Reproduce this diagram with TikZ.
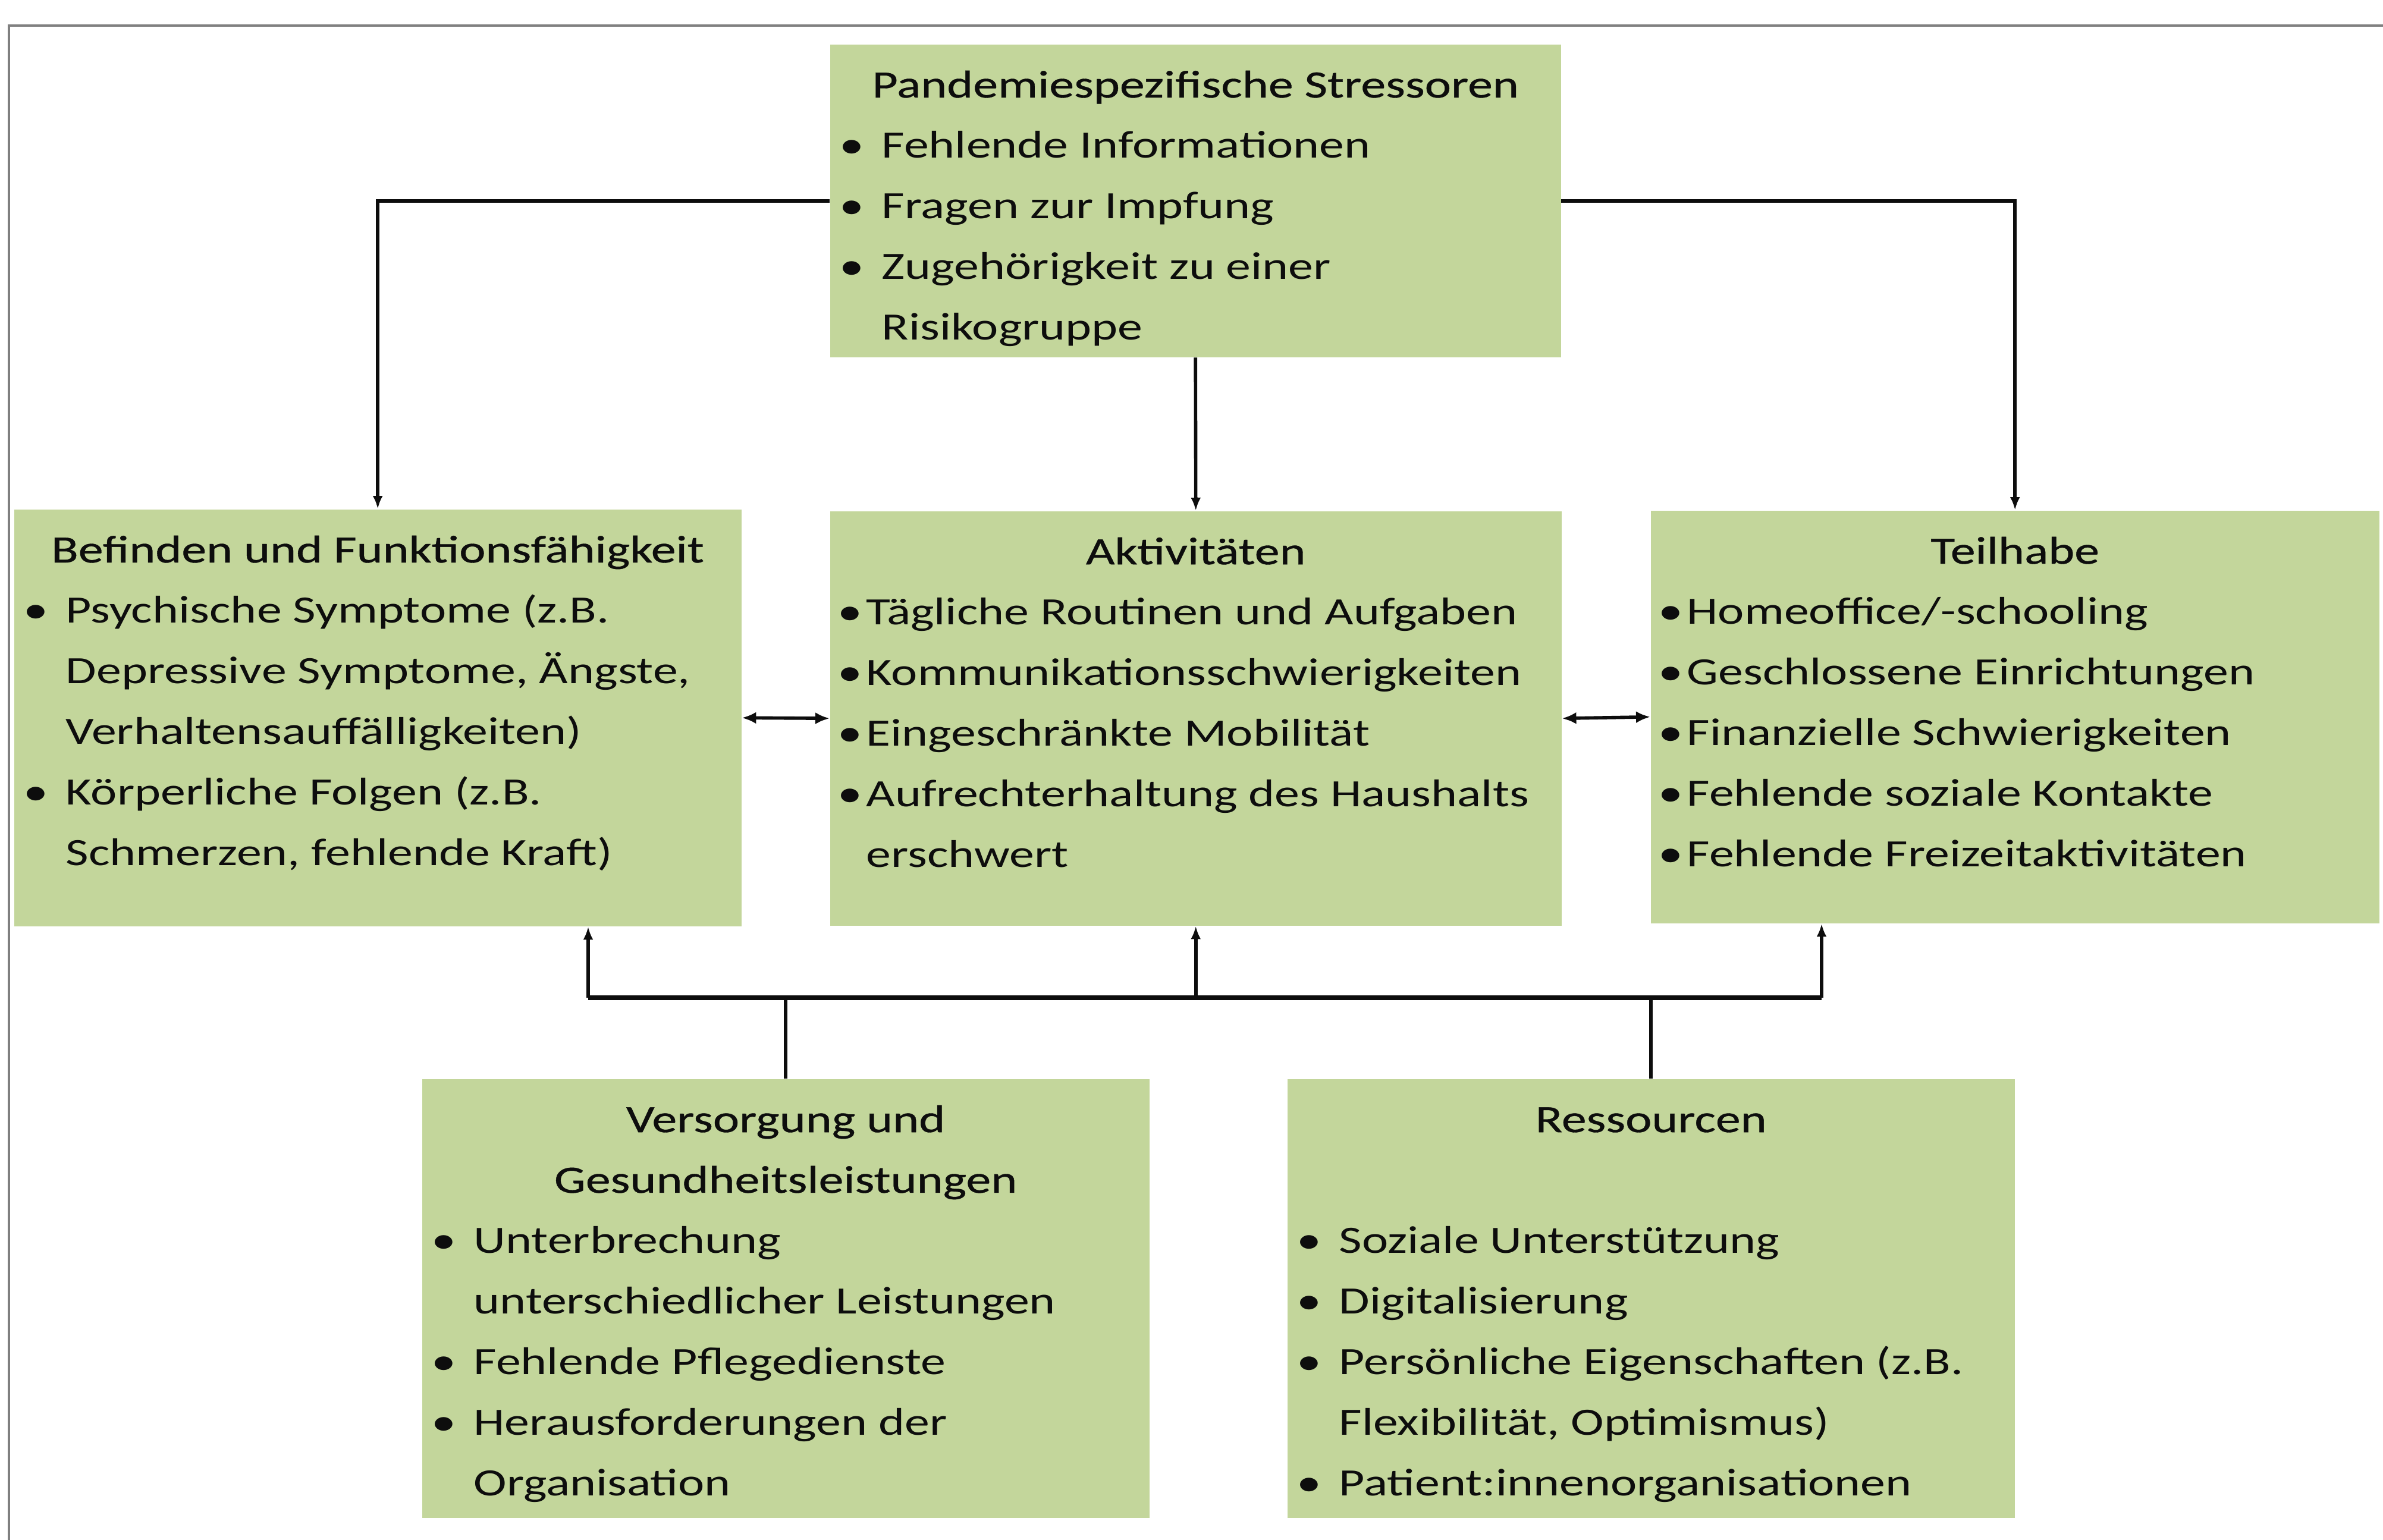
\documentclass[tikz,border=0pt]{standalone}
\usepackage{fontspec}
\setmainfont[FakeStretch=1.29]{Carlito}
\newfontfamily\titlefont[FakeStretch=1.29,FakeBold=0.6]{Carlito}
\usetikzlibrary{arrows.meta, positioning, calc}

\definecolor{panelgreen}{RGB}{195, 214, 155}
\definecolor{framegray}{RGB}{128, 128, 128}
\definecolor{ink}{RGB}{13, 13, 13}

\newlength{\itind}
\newlength{\bulx}
\newcommand{\normalitems}{\setlength{\itind}{0.87cm}\setlength{\bulx}{0.37cm}}
\newcommand{\tightitems}{\setlength{\itind}{0.61cm}\setlength{\bulx}{0.34cm}}
\newcommand{\panelfont}{\fontsize{18.5}{29}\selectfont\raggedright\color{ink}}
% box content: width, height, text
\newcommand{\panel}[3]{\parbox[c][#2][t]{#1}{\panelfont\vspace*{0.18cm}#3}}
\newcommand{\ptitle}[1]{{\centering\titlefont\strut#1\par}}
\newcommand{\pitem}[1]{\par\hangindent=\itind\hangafter=1\noindent\hbox to \itind{\hskip\bulx\makebox[0pt]{\textbullet}\hfil}\strut#1\par}
\newcommand{\pblank}{\par\noindent\strut\par}

\begin{document}
\begin{tikzpicture}[
        panel/.style={rectangle, fill=panelgreen, inner sep=0pt, anchor=north west},
        arr/.style={-{Latex[length=2.2mm, width=1.7mm]}, line width=1.6pt, ink},
        dblarr/.style={{Latex[length=2.4mm, width=2mm]}-{Latex[length=2.4mm, width=2mm]}, line width=1.6pt, ink},
        link/.style={line width=1.6pt, ink},
        bus/.style={line width=2pt, ink},
        frameline/.style={line width=1.4pt, framegray}
    ]
        \useasboundingbox (0,0) rectangle (40.07,-25.90);
        \draw[frameline] (0.15,-25.90) -- (0.15,-0.43) -- (40.07,-0.43);

        % Boxes
        \node[panel] (stress) at (13.95,-0.74) {\panel{12.29cm}{5.26cm}{\normalitems
            \ptitle{Pandemiespezifische Stressoren}
            \pitem{Fehlende Informationen}
            \pitem{Fragen zur Impfung}
            \pitem{Zugehörigkeit zu einer\newline Risikogruppe}}};
        \node[panel] (bef) at (0.23,-8.56) {\panel{12.23cm}{7.01cm}{\normalitems
            \ptitle{Befinden und Funktionsfähigkeit}
            \pitem{Psychische Symptome (z.B.\newline Depressive Symptome, Ängste,\newline Verhaltensauffälligkeiten)}
            \pitem{Körperliche Folgen (z.B.\newline Schmerzen, fehlende Kraft)}}};
        \node[panel] (akt) at (13.95,-8.59) {\panel{12.30cm}{6.97cm}{\tightitems
            \ptitle{Aktivitäten}
            \pitem{Tägliche Routinen und Aufgaben}
            \pitem{\mbox{Kommunikationsschwierigkeiten}}
            \pitem{Eingeschränkte Mobilität}
            \pitem{\mbox{Aufrechterhaltung des Haushalts}\newline erschwert}}};
        \node[panel] (teil) at (27.75,-8.58) {\panel{12.25cm}{6.94cm}{\tightitems
            \ptitle{Teilhabe}
            \pitem{Homeoffice/-schooling}
            \pitem{Geschlossene Einrichtungen}
            \pitem{Finanzielle Schwierigkeiten}
            \pitem{Fehlende soziale Kontakte}
            \pitem{Fehlende Freizeitaktivitäten}}};
        \node[panel] (vers) at (7.09,-18.14) {\panel{12.23cm}{7.38cm}{\normalitems
            \ptitle{Versorgung und\\ Gesundheitsleistungen}
            \pitem{Unterbrechung\newline unterschiedlicher Leistungen}
            \pitem{Fehlende Pflegedienste}
            \pitem{Herausforderungen der\newline Organisation}}};
        \node[panel] (ress) at (21.64,-18.14) {\panel{12.23cm}{7.38cm}{\normalitems
            \ptitle{Ressourcen}
            \pblank
            \pitem{Soziale Unterstützung}
            \pitem{Digitalisierung}
            \pitem{Persönliche Eigenschaften (z.B.\newline Flexibilität, Optimismus)}
            \pitem{Patient:innenorganisationen}}};

        % Stressors to the three areas
        \draw[arr] (stress.west) -| (bef.north);
        \draw[arr] (stress.east) -| (teil.north);
        \draw[arr] (stress.south) -- (akt.north);
        \draw[dblarr] (bef.east) -- (akt.west);
        \draw[dblarr] (akt.east) -- (teil.west);

        % Context factors below
        \coordinate (busL) at (9.89,-16.78);
        \coordinate (busR) at (30.63,-16.78);
        \draw[bus] (busL) -- (busR);
        \draw[arr] (busL) -- (busL |- bef.south);
        \draw[arr] (akt.south |- busL) -- (akt.south);
        \draw[arr] (busR) -- (busR |- teil.south);
        \draw[link] (vers.north) -- (vers.north |- busL);
        \draw[link] (ress.north) -- (ress.north |- busL);
    \end{tikzpicture}
\end{document}
